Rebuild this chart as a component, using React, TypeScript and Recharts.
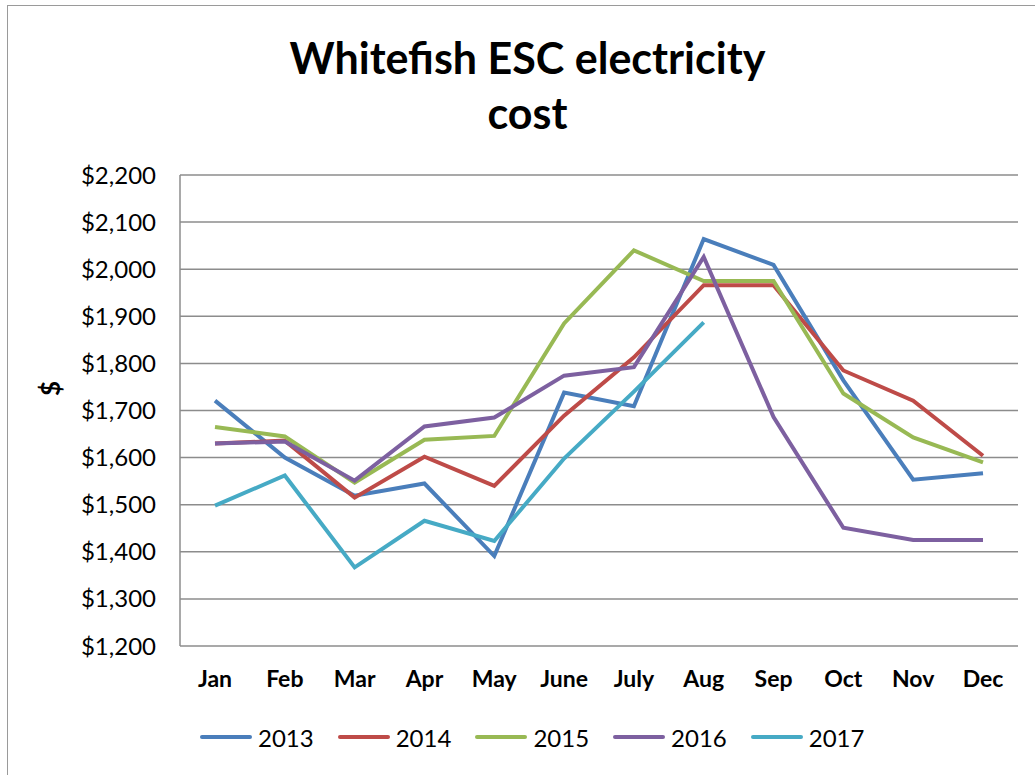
import React from "react";
import { LineChart, Line, XAxis, YAxis, CartesianGrid, Legend } from "recharts";

const months = ["Jan", "Feb", "Mar", "Apr", "May", "June", "July", "Aug", "Sep", "Oct", "Nov", "Dec"];
const y2013 = [1721, 1600, 1519, 1545, 1391, 1738, 1709, 2064, 2009, 1764, 1553, 1567];
const y2014 = [1630, 1636, 1515, 1602, 1540, 1689, 1813, 1966, 1966, 1785, 1721, 1604];
const y2015 = [1665, 1645, 1547, 1638, 1646, 1885, 2040, 1975, 1975, 1736, 1643, 1590];
const y2016 = [1630, 1634, 1551, 1666, 1685, 1774, 1792, 2026, 1686, 1451, 1425, 1425];
const y2017: (number | null)[] = [1498, 1562, 1367, 1466, 1423, 1598, 1740, 1887, null, null, null, null];
const yTicks = [1200, 1300, 1400, 1500, 1600, 1700, 1800, 1900, 2000, 2100, 2200];

const series = [
  { key: "2013", values: y2013, color: "#4A7EBB" },
  { key: "2014", values: y2014, color: "#BE4B48" },
  { key: "2015", values: y2015, color: "#98B954" },
  { key: "2016", values: y2016, color: "#7D60A0" },
  { key: "2017", values: y2017, color: "#46AAC5" },
];

const data = months.map((m, i) => {
  const row: Record<string, string | number | null> = { month: m };
  series.forEach((s) => {
    row[s.key] = s.values[i];
  });
  return row;
});

const FONT = "Lato, 'Open Sans', sans-serif";

const fmt = (v: number) => "$" + v.toLocaleString("en-US");

const renderLegend = (props: any) => {
  const payload = props.payload || [];
  return (
    <div style={{ display: "flex", justifyContent: "flex-start", paddingLeft: 200, height: 40, alignItems: "center", fontFamily: FONT }}>
      {payload.map((p: any) => (
        <div key={p.value} style={{ display: "flex", alignItems: "center", marginRight: 24 }}>
          <svg width={52} height={10} style={{ marginRight: 6 }}>
            <line x1={2} y1={5} x2={50} y2={5} stroke={p.color} strokeWidth={4} strokeLinecap="round" />
          </svg>
          <span style={{ fontSize: 24, color: "#000" }}>{p.value}</span>
        </div>
      ))}
    </div>
  );
};

const YLabel = (props: any) => {
  const vb = props.viewBox || { x: 0, y: 0, width: 0, height: 0 };
  const x = vb.x + 50;
  const y = vb.y + vb.height / 2 - 22;
  return (
    <text
      x={x}
      y={y}
      transform={`rotate(-90 ${x} ${y})`}
      textAnchor="middle"
      dominantBaseline="central"
      style={{ fontFamily: FONT, fontSize: 26, fontWeight: 700, fill: "#000" }}
    >
      $
    </text>
  );
};

export default function App() {
  return (
    <div style={{ position: "absolute", left: 0, top: 0, width: 1035, height: 775, background: "#fff", overflow: "hidden" }}>
      <div
        style={{
          position: "absolute",
          left: 7,
          top: 5,
          width: 1100,
          height: 900,
          border: "1.5px solid #9a9a9a",
          boxSizing: "border-box",
        }}
      />
      <div
        style={{
          position: "absolute",
          left: 0,
          top: 30,
          width: 1055,
          textAlign: "center",
          fontFamily: FONT,
          fontWeight: 700,
          fontSize: 43,
          lineHeight: "55px",
          color: "#000",
        }}
      >
        Whitefish ESC electricity
        <br />
        cost
      </div>
      <div style={{ position: "absolute", left: 0, top: 0 }}>
        <LineChart width={1035} height={775} data={data} margin={{ top: 175, right: 17, left: 0, bottom: 18 }}>
          <CartesianGrid vertical={false} stroke="#8c8c8c" strokeWidth={1.5} />
          <XAxis
            dataKey="month"
            axisLine={false}
            tickLine={false}
            height={71}
            tickMargin={19}
            padding={{ left: 35, right: 35 }}
            tick={{ fontFamily: FONT, fontSize: 23, fontWeight: 700, fill: "#000" }}
            interval={0}
          />
          <YAxis
            width={180}
            domain={[1200, 2200]}
            ticks={yTicks}
            tickFormatter={fmt}
            axisLine={{ stroke: "#8c8c8c", strokeWidth: 1.5 }}
            tickLine={false}
            tickMargin={18}
            tick={{ fontFamily: FONT, fontSize: 24, fill: "#000" }}
            label={<YLabel />}
          />
          <Legend verticalAlign="bottom" content={renderLegend} />
          {series.map((s) => (
            <Line
              key={s.key}
              type="linear"
              dataKey={s.key}
              stroke={s.color}
              strokeWidth={4}
              dot={false}
              activeDot={false}
              isAnimationActive={false}
              connectNulls={false}
            />
          ))}
        </LineChart>
      </div>
    </div>
  );
}
